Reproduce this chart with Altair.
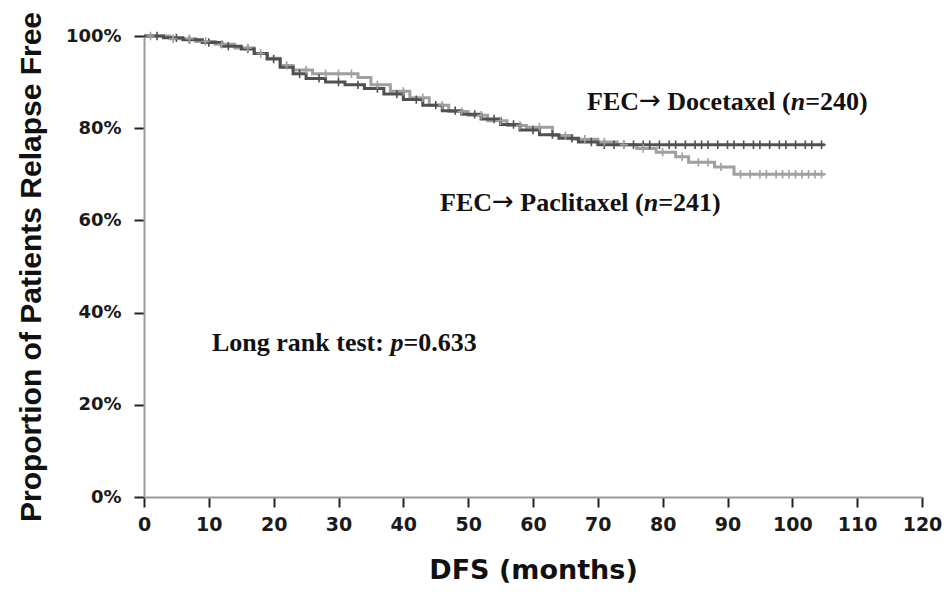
import altair as alt
import pandas as pd

# Kaplan-Meier step points (months, proportion relapse free)
doc_t = [0, 3, 6, 9, 12, 15, 17, 19, 21, 23, 25, 28, 31, 34, 37, 40, 43, 46, 49, 52, 55, 58, 61, 64, 67, 70, 105]
doc_s = [1.0, 0.996, 0.992, 0.986, 0.978, 0.972, 0.962, 0.950, 0.932, 0.918, 0.908, 0.900, 0.894, 0.886, 0.874,
         0.862, 0.850, 0.838, 0.830, 0.820, 0.808, 0.796, 0.786, 0.778, 0.770, 0.764, 0.764]

pac_t = [0, 4, 8, 11, 14, 17, 19, 21, 23, 26, 33, 35, 38, 41, 44, 47, 50, 53, 56, 59, 63, 66, 70, 73, 76, 79,
         82, 84, 88, 91, 105]
pac_s = [1.0, 0.994, 0.988, 0.982, 0.974, 0.962, 0.952, 0.936, 0.926, 0.918, 0.910, 0.894, 0.880, 0.866, 0.850,
         0.836, 0.828, 0.816, 0.806, 0.802, 0.784, 0.776, 0.770, 0.764, 0.756, 0.748, 0.738, 0.726, 0.716, 0.700,
         0.700]

# censoring times (months)
doc_cens = [2, 5, 7, 10, 13, 16, 20, 24, 27, 30, 33, 36, 39, 42, 45, 48, 51, 54, 57, 60, 63, 66, 69, 71, 72.5,
            74, 75.5, 77, 78, 79.5, 81, 82, 83.5, 85, 86, 87, 88.5, 90, 91, 92.5, 94, 95, 96.5, 98, 99, 100.5,
            102, 103, 104.5]
pac_cens = [1, 4.5, 7, 9.5, 12, 16, 18, 22, 25, 28, 30, 32, 36, 40, 43, 46, 49, 52, 55, 58, 61, 65, 68, 71,
            74, 77, 80, 83, 85.5, 87, 89, 92, 93.5, 95, 96, 97.5, 98.5, 99.5, 100.5, 101.5, 102.5, 103.5, 104.5]

groups = ["Docetaxel", "Paclitaxel"]
colors = ["#505050", "#a0a0a0"]

PLOT_W = 778
PX_PER_MONTH = PLOT_W / 120

# annotation labels: (start pixel offset from plot left, baseline proportion, segments[(text, kind, advance em)])
# kind "s" = blank space (no text drawn)
FS = 26
labels = [
    (443, 0.8395, [("FEC", "b", 2.0), ("\u2192", "a", 0.838), ("", "s", 0.25), ("Docetaxel (", "b", 4.748),
                   ("n", "i", 0.556), ("=240)", "b", 2.403)]),
    (296, 0.6204, [("FEC", "b", 2.0), ("\u2192", "a", 0.838), ("", "s", 0.25), ("Paclitaxel (", "b", 4.749),
                   ("n", "i", 0.556), ("=241)", "b", 2.403)]),
    (68, 0.3167, [("Long rank test:", "b", 6.611), ("", "s", 0.25), ("p", "i", 0.5), ("=0.633", "b", 2.82)]),
]


def km_at(ts, ss, t):
    v = ss[0]
    for a, b in zip(ts, ss):
        if a <= t:
            v = b
    return v


rows = []
for g, ts, ss in [("Docetaxel", doc_t, doc_s), ("Paclitaxel", pac_t, pac_s)]:
    for a, b in zip(ts, ss):
        rows.append({"t": a, "s": b, "g": g})
curves = pd.DataFrame(rows)

crow = []
for g, ts, ss, cs_ in [("Docetaxel", doc_t, doc_s, doc_cens), ("Paclitaxel", pac_t, pac_s, pac_cens)]:
    for c in cs_:
        crow.append({"t": c, "s": km_at(ts, ss, c), "g": g})
cens = pd.DataFrame(crow)

seg_rows = []
for px0, y0, segs in labels:
    px = px0
    for text, kind, w in segs:
        if kind != "s":
            seg_rows.append({"x": px / PX_PER_MONTH, "y": y0, "text": text, "kind": kind})
        px += w * FS
segs_df = pd.DataFrame(seg_rows)

xs = alt.Scale(domain=[0, 120], nice=False, zero=True)
ys = alt.Scale(domain=[0, 1], nice=False)
cs = alt.Scale(domain=groups, range=colors)

X = alt.X("t:Q", scale=xs, axis=alt.Axis(values=list(range(0, 121, 10)), title="DFS (months)",
                                          titlePadding=23, labelPadding=8, labelFlush=False,
                                          labelFont="DejaVu Sans", labelFontSize=19, labelFontWeight="bold",
                                          titleFont="DejaVu Sans", titleFontSize=27))
Y = alt.Y("s:Q", scale=ys, axis=alt.Axis(values=[0, 0.2, 0.4, 0.6, 0.8, 1.0], format=".0%",
                                          title="Proportion of Patients Relapse Free",
                                          titlePadding=19, labelPadding=13, labelFlush=False,
                                          labelFont="DejaVu Sans", labelFontSize=18, labelFontWeight="bold",
                                          titleFont="Liberation Sans", titleFontSize=30))

lines = alt.Chart(curves).mark_line(interpolate="step-after", strokeWidth=3).encode(
    x=X, y=Y, color=alt.Color("g:N", scale=cs, legend=None))

marks = alt.Chart(cens).mark_point(shape="M-1,0H1M0,-1V1", filled=False, size=70, strokeWidth=1.6,
                                   opacity=1).encode(
    x="t:Q", y="s:Q", color=alt.Color("g:N", scale=cs, legend=None))

base_txt = alt.Chart(segs_df).encode(x="x:Q", y="y:Q", text="text:N")
tb = base_txt.transform_filter(alt.datum.kind == "b").mark_text(
    font="Liberation Serif", fontWeight="bold", fontSize=FS, align="left", baseline="alphabetic", color="#111")
ti = base_txt.transform_filter(alt.datum.kind == "i").mark_text(
    font="Liberation Serif", fontWeight="bold", fontStyle="italic", fontSize=FS, align="left",
    baseline="alphabetic", color="#111")
ta = base_txt.transform_filter(alt.datum.kind == "a").mark_text(
    font="DejaVu Sans", fontSize=FS, align="left", baseline="alphabetic", dy=-1, color="#111")

chart = alt.layer(lines.transform_filter(alt.datum.g == "Paclitaxel"),
                  lines.transform_filter(alt.datum.g == "Docetaxel"),
                  marks, tb, ti, ta).properties(
    width=PLOT_W, height=461,
    autosize=alt.AutoSizeParams(type="none"),
    padding={"left": 136, "top": 28, "right": 22, "bottom": 88},
).configure_view(stroke=None).configure_axis(
    grid=False, domainColor="#9a9a9a", domainWidth=2, tickColor="#222", tickWidth=2, tickSize=10,
    labelColor="#1a1a1a", titleFontWeight="bold", titleColor="#111",
)

chart.save("out.html", embed_options={"renderer": "svg", "actions": False})
